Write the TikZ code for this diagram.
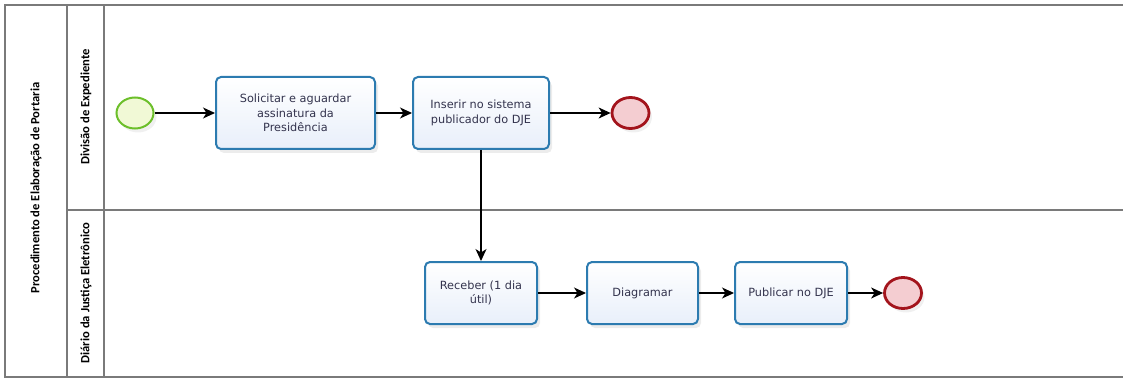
\documentclass[tikz,border=0pt]{standalone}
\usepackage{fontspec}
\setmainfont{DejaVu Sans}
\newfontfamily\lanefont{Carlito}
\usetikzlibrary{arrows.meta,shadows,shapes.geometric}
\definecolor{taskborder}{HTML}{2C7BB0}
\definecolor{taskfill}{HTML}{E8EFFA}
\definecolor{startborder}{HTML}{6CBF2A}
\definecolor{startfill}{HTML}{F1F9D6}
\definecolor{endborder}{HTML}{A3141C}
\definecolor{endfill}{HTML}{F4CDD1}
\definecolor{poolline}{HTML}{7A7A7A}
\definecolor{textcol}{HTML}{33334D}
\tikzset{
  task/.style={draw=taskborder, line width=2pt, rounded corners=5pt,
    top color=white, bottom color=taskfill, text=textcol,
    align=center, font=\fontsize{11.3}{14.5}\selectfont,
    drop shadow={shadow xshift=3pt, shadow yshift=-4pt, opacity=0.15}},
  evshadow/.style={drop shadow={shadow xshift=3pt, shadow yshift=-4pt, opacity=0.12}},
  startev/.style={shape=ellipse, draw=startborder, line width=2pt, fill=startfill,
    minimum width=37pt, minimum height=31pt, inner sep=0pt, evshadow},
  endev/.style={shape=ellipse, draw=endborder, line width=2.8pt, fill=endfill,
    minimum width=37pt, minimum height=31pt, inner sep=0pt, evshadow},
  flow/.style={draw=black, line width=1.1pt, -{Stealth[length=12pt,width=11pt,inset=3.5pt]}},
  pool/.style={draw=poolline, line width=1.3pt},
  lanelabel/.style={rotate=90, font=\lanefont\bfseries\fontsize{12.6}{15}\selectfont}
}
\begin{document}
\begin{tikzpicture}[x=1pt,y=-1pt]
\useasboundingbox (0,0) rectangle (1123,379);
% pool
\draw[pool] (1123,5) -- (5,5) -- (5,377) -- (1123,377);
\draw[pool] (67,5) -- (67,377);
\draw[pool] (104,5) -- (104,377);
\draw[pool] (67,210) -- (1123,210);
\node[lanelabel] (poollbl) at (36,188) {Procedimento de Elaboração de Portaria};
\node[lanelabel] (lane1) at (86,107) {Divisão de Expediente};
\node[lanelabel] (lane2) at (86,293) {Diário da Justiça Eletrônico};
% events
\node[startev] (start) at (135,113) {};
\node[endev] (end1) at (630.5,113) {};
\node[endev] (end2) at (903,293) {};
% tasks
\node[task, minimum width=159pt, minimum height=72pt] (t1) at (295.5,113) {Solicitar e aguardar\\assinatura da\\Presidência};
\node[task, minimum width=136pt, minimum height=72pt] (t2) at (481,113) {Inserir no sistema\\publicador do DJE};
\node[task, minimum width=112pt, minimum height=62pt] (t3) at (481,293) {Receber (1 dia\\útil)};
\node[task, minimum width=111pt, minimum height=62pt] (t4) at (642.5,293) {Diagramar};
\node[task, minimum width=112pt, minimum height=62pt] (t5) at (791,293) {Publicar no DJE};
% flows
\draw[flow] (start) -- (t1.west);
\draw[flow] (t1.east) -- (t2.west);
\draw[flow] (t2.east) -- (end1);
\draw[flow] (t2.south) -- (t3.north);
\draw[flow] (t3.east) -- (t4.west);
\draw[flow] (t4.east) -- (t5.west);
\draw[flow] (t5.east) -- (end2);
\end{tikzpicture}
\end{document}
